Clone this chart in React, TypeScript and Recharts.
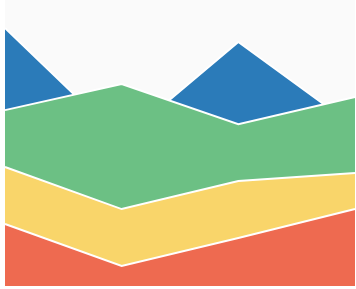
import { Area, AreaChart, CartesianGrid, XAxis, YAxis } from "recharts"

const categories = ["A", "B", "C", "D"]
const blue = [90.2, 51.0, 85.3, 55.6]
const green = [61.5, 70.6, 56.6, 66.1]
const yellow = [41.6, 26.9, 36.7, 39.5]
const red = [21.7, 7.0, 16.8, 26.9]

const data = categories.map((name, i) => ({
  name,
  blue: blue[i],
  green: green[i],
  yellow: yellow[i],
  red: red[i],
}))

const series = [
  { key: "blue", color: "#2b7bb9" },
  { key: "green", color: "#6cc084" },
  { key: "yellow", color: "#f9d56a" },
  { key: "red", color: "#ee6a50" },
]

export default function App() {
  return (
    <div style={{ position: "absolute", left: 0, top: 0, width: 356, height: 289, background: "#fff" }}>
      <AreaChart width={356} height={289} data={data} margin={{ top: 0, right: 1, bottom: 3, left: 5 }}>
        <CartesianGrid fill="#fafafa" stroke="none" horizontal={false} vertical={false} />
        <XAxis dataKey="name" hide />
        <YAxis hide domain={[0, 100]} />
        {series.map((s) => (
          <Area
            key={s.key}
            type="linear"
            dataKey={s.key}
            fill={s.color}
            fillOpacity={1}
            stroke="#fff"
            strokeWidth={2}
            dot={false}
            activeDot={false}
            isAnimationActive={false}
          />
        ))}
      </AreaChart>
    </div>
  )
}
